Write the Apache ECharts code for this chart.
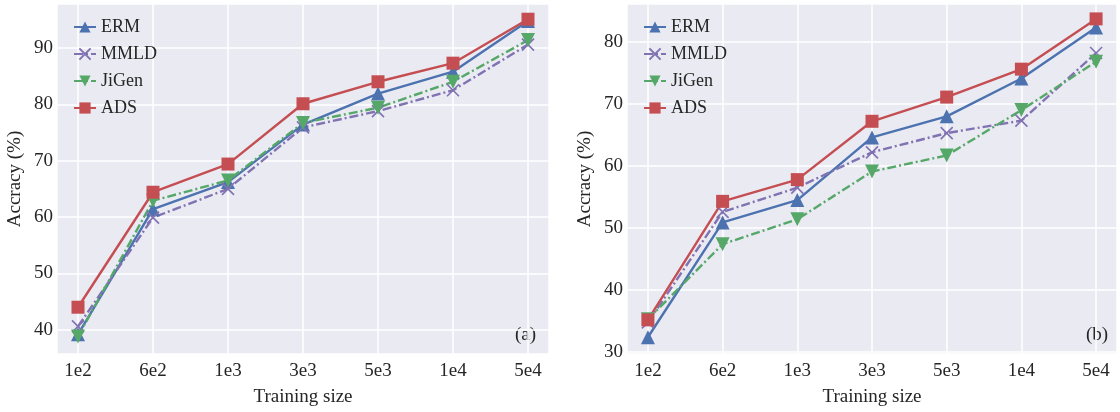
<!DOCTYPE html>
<html>
<head>
<meta charset="utf-8">
<script src="https://cdn.jsdelivr.net/npm/echarts@6/dist/echarts.min.js"></script>
<style>
  html, body { margin: 0; padding: 0; background: #fff; }
  #main { width: 1120px; height: 412px; }
</style>
</head>
<body>
<div id="main"></div>
<script>
// training sizes (x categories)
const sizes = ['1e2', '6e2', '1e3', '3e3', '5e3', '1e4', '5e4'];
const methods = ['ERM', 'MMLD', 'JiGen', 'ADS'];

// panel (a)
const ermA = [39.2, 61.4, 66.2, 76.4, 81.9, 85.8, 94.8];
const mmldA = [40.6, 59.9, 65.0, 75.9, 78.8, 82.5, 90.6];
const jigenA = [38.8, 62.9, 66.5, 76.7, 79.4, 84.0, 91.4];
const adsA = [44.0, 64.4, 69.4, 80.1, 84.0, 87.3, 95.1];

// panel (b)
const ermB = [32.4, 50.9, 54.5, 64.6, 68.0, 74.1, 82.3];
const mmldB = [34.8, 52.6, 56.5, 62.2, 65.3, 67.3, 78.2];
const jigenB = [35.3, 47.4, 51.4, 59.1, 61.7, 69.0, 76.8];
const adsB = [35.2, 54.3, 57.8, 67.2, 71.1, 75.6, 83.7];

const FONT = 'Liberation Serif';
const TXT = '#262626';
const colors = { ERM: '#4C72B0', MMLD: '#8172B2', JiGen: '#55A868', ADS: '#C44E52' };
const dashDot = [9, 3, 2, 3];

// marker per method
const markers = {
  ERM: { symbol: 'triangle', symbolSize: 14, symbolRotate: 0, dash: 'solid' },
  MMLD: { symbol: 'path://M0,0L10,10M0,10L10,0', symbolSize: 12, symbolRotate: 0, dash: dashDot },
  JiGen: { symbol: 'triangle', symbolSize: 14, symbolRotate: 180, dash: dashDot },
  ADS: { symbol: 'rect', symbolSize: 13, symbolRotate: 0, dash: 'solid' }
};

function makeSeries(name, values, idx) {
  const m = markers[name];
  const c = colors[name];
  return {
    name: name,
    type: 'line',
    xAxisIndex: idx,
    yAxisIndex: idx,
    data: values.map((v, i) => [i, v]),
    symbol: m.symbol,
    symbolSize: m.symbolSize,
    symbolRotate: m.symbolRotate,
    lineStyle: { color: c, width: 2.4, type: m.dash },
    itemStyle: {
      color: name === 'MMLD' ? 'transparent' : c,
      borderColor: c,
      borderWidth: name === 'MMLD' ? 1.6 : 0,
      opacity: 1
    },
    emphasis: { disabled: true }
  };
}

function xAxisFor(idx) {
  return {
    type: 'value',
    gridIndex: idx,
    min: -0.28,
    max: 6.28,
    minInterval: 1,
    maxInterval: 1,
    name: 'Training size',
    nameLocation: 'middle',
    nameGap: 34,
    nameTextStyle: { fontFamily: FONT, fontSize: 19, color: TXT },
    axisLine: { show: false },
    axisTick: { show: false },
    axisLabel: {
      fontFamily: FONT, fontSize: 19, color: TXT, margin: 8,
      formatter: v => (Number.isInteger(v) && v >= 0 && v < sizes.length) ? sizes[v] : ''
    },
    splitLine: { show: true, lineStyle: { color: '#ffffff', width: 1.5 } }
  };
}

function yAxisFor(idx, lo, hi) {
  return {
    type: 'value',
    gridIndex: idx,
    min: lo,
    max: hi,
    minInterval: 10,
    maxInterval: 10,
    name: 'Accracy (%)',
    nameLocation: 'middle',
    nameRotate: 90,
    nameGap: 32,
    nameTextStyle: { fontFamily: FONT, fontSize: 19, color: TXT },
    axisLine: { show: false },
    axisTick: { show: false },
    axisLabel: {
      fontFamily: FONT, fontSize: 19, color: TXT, margin: 4,
      formatter: v => (Math.abs(v % 10) < 1e-6) ? String(v) : ''
    },
    splitLine: { show: true, lineStyle: { color: '#ffffff', width: 1.5 } }
  };
}

function legendFor(left) {
  return {
    data: methods,
    orient: 'vertical',
    left: left,
    top: 13,
    itemWidth: 22,
    itemHeight: 14,
    itemGap: 9,
    textStyle: { fontFamily: FONT, fontSize: 18, color: TXT },
    selectedMode: false
  };
}

const chart = echarts.init(document.getElementById('main'), null, { renderer: 'canvas' });

const option = {
  backgroundColor: '#ffffff',
  animation: false,
  grid: [
    { left: 57, right: 571, top: 4, bottom: 57, show: true, backgroundColor: '#EAEAF2', borderWidth: 0 },
    { left: 627, right: 1, top: 4, bottom: 57, show: true, backgroundColor: '#EAEAF2', borderWidth: 0 }
  ],
  xAxis: [xAxisFor(0), xAxisFor(1)],
  yAxis: [yAxisFor(0, 35.7, 97.8), yAxisFor(1, 29.7, 86.1)],
  legend: [legendFor(68), legendFor(638)],
  series: [
    makeSeries('ERM', ermA, 0),
    makeSeries('MMLD', mmldA, 0),
    makeSeries('JiGen', jigenA, 0),
    makeSeries('ADS', adsA, 0),
    makeSeries('ERM', ermB, 1),
    makeSeries('MMLD', mmldB, 1),
    makeSeries('JiGen', jigenB, 1),
    makeSeries('ADS', adsB, 1)
  ],
  graphic: [
    { type: 'text', left: 515, top: 326, style: { text: '(a)', font: '19px "Liberation Serif"', fill: TXT } },
    { type: 'text', left: 1086, top: 326, style: { text: '(b)', font: '19px "Liberation Serif"', fill: TXT } }
  ]
};

chart.setOption(option);
</script>
</body>
</html>
